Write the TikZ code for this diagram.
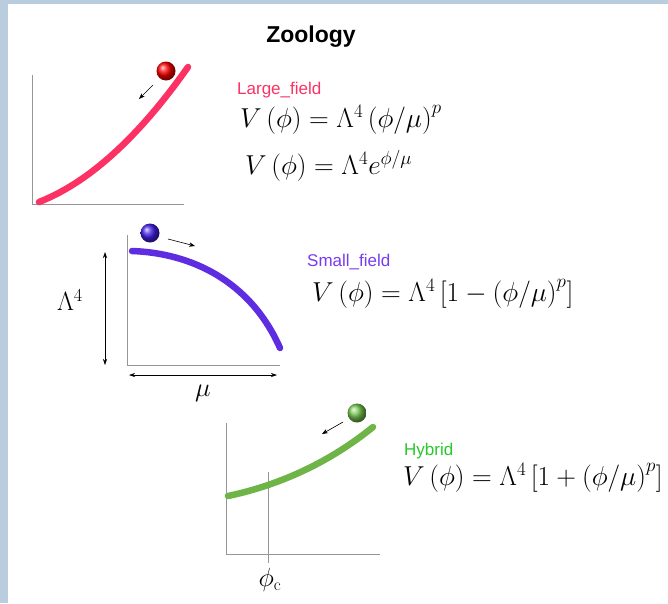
\documentclass[tikz,border=0pt]{standalone}
\usepackage{fontspec}
\setsansfont{Liberation Sans}
\usepackage{graphicx}
\usetikzlibrary{arrows.meta}
\usepackage{xcolor}
\definecolor{lfpink}{RGB}{252,50,100}
\definecolor{sfpurple}{RGB}{95,45,225}
\definecolor{sflabel}{RGB}{120,60,240}
\definecolor{hygreen}{RGB}{110,180,70}
\definecolor{hyball}{RGB}{120,200,80}
\definecolor{hylabel}{RGB}{40,200,40}
\definecolor{axgray}{RGB}{150,150,150}
\definecolor{bgblue}{RGB}{185,205,222}
\newcommand{\bigeq}[1]{\scalebox{1.1}{$#1$}}

\begin{document}
\begin{tikzpicture}[x=1pt, y=-1pt,
  axis/.style={axgray, line width=1pt},
  pot/.style={line width=6.5pt, line cap=round},
  bead/.style={circle, minimum size=19pt, inner sep=0pt, ball color=#1},
  roll/.style={-{Stealth[length=6pt,width=4.5pt]}, line width=0.6pt},
  span/.style={{Stealth[length=6pt,width=4pt]}-{Stealth[length=6pt,width=4pt]}, line width=0.6pt},
  lbl/.style={font=\sffamily\fontsize{17}{20}\selectfont, anchor=base west, inner sep=0pt},
  eqn/.style={font=\fontsize{23}{27}\selectfont, anchor=base west, inner sep=0pt},
  ax/.style={font=\fontsize{23}{27}\selectfont, inner sep=0pt}
]
\fill[bgblue] (0,0) rectangle (668,603);
\fill[white] (8,4) rectangle (668,603);
\useasboundingbox (0,0) rectangle (668,603);

\node[font=\sffamily\bfseries\fontsize{23}{27}\selectfont, anchor=base, inner sep=0pt] (title) at (311,42) {Zoology};

\draw[axis] (32,75) -- (32,204) -- (184,204);
\draw[pot, lfpink] (39,202) .. controls (95,180) and (145,128) .. (188,67);
\node[bead=red] (lfball) at (166,71) {};
\coordinate (lfa) at (153,85);
\coordinate (lfb) at (139,99);
\draw[roll] (lfa) -- (lfb);
\node[lbl, lfpink] (lflbl) at (237,94) {Large\_field};
\node[eqn] (lfeq1) at (240,127) {\bigeq{V\left(\phi\right)=\Lambda^4\left(\phi/\mu\right)^p}};
\node[eqn] (lfeq2) at (245,174) {\bigeq{V\left(\phi\right)=\Lambda^4e^{\phi/\mu}}};

\draw[axis] (127,235) -- (127,365) -- (280,365);
\draw[pot, sfpurple] (132,251) .. controls (190,253) and (250,280) .. (280,348);
\node[bead=sfpurple!70!blue] (sfball) at (150,233) {};
\coordinate (sfa) at (168,239);
\coordinate (sfb) at (195,246);
\draw[roll] (sfa) -- (sfb);
\coordinate (lamtop) at (105,252);
\coordinate (lambot) at (105,365);
\draw[span] (lamtop) -- (lambot);
\node[ax] (lam) at (70,300) {\scalebox{1.06}{$\Lambda^4$}};
\coordinate (muleft) at (129,375);
\coordinate (muright) at (277,375);
\draw[span] (muleft) -- (muright);
\node[ax] (mu) at (203,393) {\scalebox{1.06}{$\mu$}};
\node[lbl, sflabel] (sflbl) at (307,266) {Small\_field};
\node[eqn] (sfeq) at (312,301) {\bigeq{V\left(\phi\right)=\Lambda^4\left[1-\left(\phi/\mu\right)^p\right]}};

\draw[axis] (226,423) -- (226,554) -- (380,554);
\draw[axis] (268,472) -- (268,563);
\draw[pot, hygreen] (228,496) .. controls (280,485) and (330,462) .. (373,427);
\node[bead=hyball] (hyball) at (357,413) {};
\coordinate (hya) at (343,422);
\coordinate (hyb) at (322,434);
\draw[roll] (hya) -- (hyb);
\node[ax] (phic) at (270,580) {\scalebox{1.06}{$\phi_{\mathrm{c}}$}};
\node[lbl, hylabel] (hylbl) at (404,455) {Hybrid};
\node[eqn] (hyeq) at (403,485) {\bigeq{V\left(\phi\right)=\Lambda^4\left[1+\left(\phi/\mu\right)^p\right]}};
\end{tikzpicture}
\end{document}
